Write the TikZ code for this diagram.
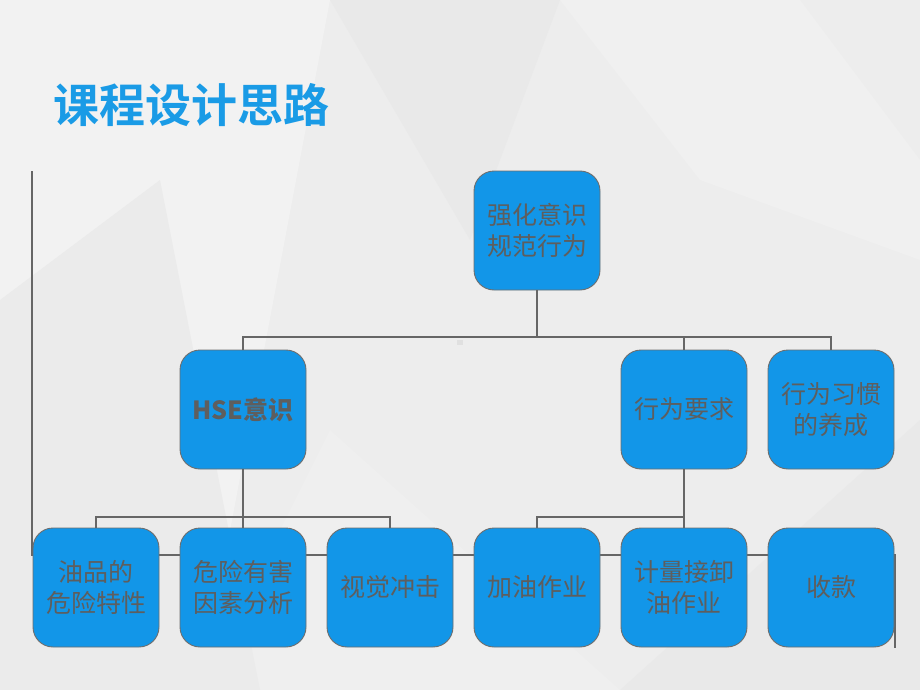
\documentclass[tikz,border=0pt]{standalone}
\usepackage{fontspec}
\newfontfamily\cjk{Noto Sans CJK SC}
\newfontfamily\cjkb{Noto Sans CJK SC Bold}
\definecolor{bgbase}{HTML}{EDEDED}
\definecolor{bglight}{HTML}{F2F2F2}
\definecolor{bgdark}{HTML}{E9E9E9}
\definecolor{boxblue}{HTML}{1296E8}
\definecolor{boxedge}{HTML}{6E6E6E}
\definecolor{txtgray}{HTML}{5E5E5E}
\definecolor{linegray}{HTML}{666666}
\definecolor{titleblue}{HTML}{1A9BE6}
\tikzset{
  orgbox/.style={draw=boxedge, line width=0.9pt, fill=boxblue, rounded corners=20pt,
    minimum width=126pt, minimum height=119pt, inner sep=0pt,
    text=txtgray, align=center, font=\cjk\fontsize{25}{31}\selectfont},
  conn/.style={draw=linegray, line width=2.8pt},
}
\begin{document}
\begin{tikzpicture}[x=1pt,y=-1pt]
\useasboundingbox (0,0) rectangle (920,690);
% background
\fill[bgbase] (0,0) rectangle (920,690);
\fill[bglight] (0,0) -- (330,0) -- (200,690) -- (0,690) -- cycle;
\fill[bglight!60!bgbase] (560,0) -- (800,0) -- (920,160) -- (920,260) -- (700,180) -- cycle;
\fill[bgdark] (330,0) -- (560,0) -- (470,240) -- cycle;
\fill[bgdark] (620,690) -- (920,420) -- (920,690) -- cycle;
\fill[bglight!50!bgbase] (200,690) -- (330,430) -- (620,690) -- cycle;
\fill[bgdark!60!bgbase] (0,300) -- (160,180) -- (260,690) -- (0,690) -- cycle;
\fill[black!12] (457,340) rectangle (463,345);
% title
\node[anchor=west, text=titleblue, font=\cjkb\fontsize{46}{52}\selectfont, inner sep=0pt] (title) at (53,105) {课程设计思路};
% frame line
\coordinate (f1) at (32,171);
\coordinate (f2) at (32,555);
\coordinate (f3) at (895,555);
\coordinate (f4) at (895,648);
\draw[conn] (f1) -- (f2) -- (f3) -- (f4);
% nodes
\node[orgbox] (root) at (537,230.5) {强化意识\\规范行为};
\node[orgbox] (hse) at (243,409.5) {\bfseries HSE\cjkb 意识};
\node[orgbox] (req) at (684,409.5) {行为要求};
\node[orgbox] (habit) at (831,409.5) {行为习惯\\的养成};
\node[orgbox] (oil) at (96,587.5) {油品的\\危险特性};
\node[orgbox] (risk) at (243,587.5) {危险有害\\因素分析};
\node[orgbox] (vis) at (390,587.5) {视觉冲击};
\node[orgbox] (fuel) at (537,587.5) {加油作业};
\node[orgbox] (meas) at (684,587.5) {计量接卸\\油作业};
\node[orgbox] (pay) at (831,587.5) {收款};
% connectors
\coordinate (b1) at (537,337);
\coordinate (b2) at (243,517);
\coordinate (b3) at (684,517);
\draw[conn] (root.south) -- (b1);
\draw[conn] (hse.north) |- (b1) -| (habit.north);
\draw[conn] (b1) -| (req.north);
\draw[conn] (hse.south) -- (risk.north);
\draw[conn] (oil.north) |- (b2) -| (vis.north);
\draw[conn] (req.south) -- (meas.north);
\draw[conn] (fuel.north) |- (b3);
\end{tikzpicture}
\end{document}
